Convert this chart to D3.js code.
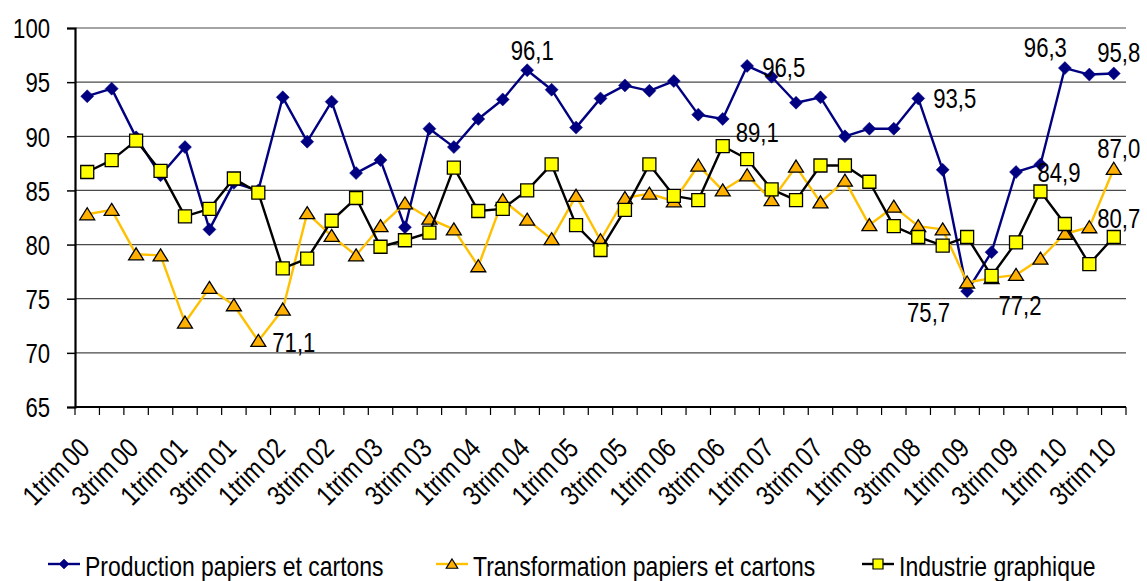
<!DOCTYPE html>
<html><head><meta charset="utf-8">
<script src="https://cdn.jsdelivr.net/npm/d3@7"></script>
<style>
html,body{margin:0;padding:0;background:#fff;}
svg text{font-family:"Liberation Sans",Arial,sans-serif;fill:#000;}
</style></head><body>
<svg id="chart" width="1147" height="581"></svg>
<script>
// Quarterly indices, 1st quarter 2000 to 3rd quarter 2010
const categories = [
  "1trim 00","2trim 00","3trim 00","4trim 00",
  "1trim 01","2trim 01","3trim 01","4trim 01",
  "1trim 02","2trim 02","3trim 02","4trim 02",
  "1trim 03","2trim 03","3trim 03","4trim 03",
  "1trim 04","2trim 04","3trim 04","4trim 04",
  "1trim 05","2trim 05","3trim 05","4trim 05",
  "1trim 06","2trim 06","3trim 06","4trim 06",
  "1trim 07","2trim 07","3trim 07","4trim 07",
  "1trim 08","2trim 08","3trim 08","4trim 08",
  "1trim 09","2trim 09","3trim 09","4trim 09",
  "1trim 10","2trim 10","3trim 10"
];
const production = [93.7,94.4,89.9,86.4,89.0,81.4,85.7,85.0,93.6,89.5,93.2,86.6,87.8,81.6,90.7,89.0,91.6,93.4,96.1,94.3,90.8,93.5,94.7,94.2,95.1,92.0,91.6,96.5,95.5,93.1,93.6,90.0,90.7,90.7,93.5,86.9,75.7,79.3,86.7,87.4,96.3,95.7,95.8];
const transformation = [82.8,83.2,79.1,79.0,72.8,76.0,74.4,71.1,74.0,82.9,80.8,79.0,81.7,83.8,82.4,81.4,78.0,84.1,82.3,80.5,84.5,80.4,84.3,84.7,84.0,87.3,85.0,86.4,84.1,87.2,83.9,85.9,81.8,83.5,81.7,81.4,76.5,76.9,77.2,78.7,81.0,81.6,87.0];
const graphique = [86.7,87.8,89.6,86.8,82.6,83.3,86.1,84.8,77.8,78.7,82.2,84.3,79.8,80.4,81.1,87.1,83.1,83.3,85.0,87.4,81.8,79.5,83.2,87.4,84.5,84.1,89.1,87.9,85.1,84.1,87.3,87.3,85.8,81.7,80.7,79.9,80.7,77.1,80.2,84.9,81.9,78.2,80.7];
const seriesNames = ["Production papiers et cartons","Transformation papiers et cartons","Industrie graphique"];
const yTicks = [65,70,75,80,85,90,95,100];

// series styling
const styles = [
  {line:"#000080", fill:"#000080", stroke:"#000080", shape:"diamond"},
  {line:"#FFC000", fill:"#FFB000", stroke:"#000000", shape:"triangle"},
  {line:"#000000", fill:"#FFFF00", stroke:"#000000", shape:"square"}
];
const seriesValues = [production, transformation, graphique];

// value labels: series index, point index, offset and anchor
const valueLabels = [
  {s:1, i:7,  dx:14, dy:11, a:"start"},
  {s:0, i:18, dx:5,  dy:-10, a:"middle"},
  {s:2, i:26, dx:13, dy:-4, a:"start"},
  {s:0, i:27, dx:15, dy:11, a:"start"},
  {s:0, i:34, dx:15, dy:10, a:"start"},
  {s:0, i:36, dx:-17, dy:31, a:"end"},
  {s:1, i:38, dx:4, dy:40, a:"middle"},
  {s:0, i:40, dx:2, dy:-11, a:"end"},
  {s:0, i:42, dx:5, dy:-11, a:"middle"},
  {s:2, i:39, dx:-3, dy:-10, a:"start"},
  {s:1, i:42, dx:5, dy:-11, a:"middle"},
  {s:2, i:42, dx:5, dy:-9, a:"middle"}
];

// narrow type: horizontally condensed sans
const NARROW = 0.82;
const condense = (px, py, extra) => `translate(${px},${py})${extra || ""} scale(${NARROW},1)`;

const svg = d3.select("#chart");
const plotLeft = 75, plotRight = 1126, plotTop = 28, plotBottom = 407;
const x = d3.scaleBand().domain(categories).range([plotLeft, plotRight]).padding(0);
const y = d3.scaleLinear().domain([65, 100]).range([plotBottom, plotTop]);
const cx = c => x(c) + x.bandwidth() / 2;

// horizontal gridlines
svg.append("g").selectAll("line").data(yTicks.filter(t => t > 65)).join("line")
  .attr("x1", plotLeft).attr("x2", plotRight)
  .attr("y1", d => y(d)).attr("y2", d => y(d))
  .attr("stroke", "#4a4a4a").attr("stroke-width", 1.2);

// y axis
const yAxis = svg.append("g").attr("transform", `translate(${plotLeft},0)`)
  .call(d3.axisLeft(y).tickValues(yTicks).tickSize(8).tickPadding(17).tickFormat(d3.format("d")));
yAxis.select(".domain").attr("stroke", "#000").attr("stroke-width", 2.2);
yAxis.selectAll(".tick line").attr("stroke", "#000").attr("stroke-width", 1.5);
yAxis.selectAll("text").style("font-size", "27px").attr("dy", "0.36em")
  .each(function () {
    const px = +this.getAttribute("x");
    d3.select(this).attr("x", 0).attr("transform", condense(px, 0));
  });

// x axis: ticks on category boundaries, labels every other quarter
const xg = svg.append("g");
xg.append("line").attr("x1", plotLeft).attr("x2", plotRight).attr("y1", plotBottom).attr("y2", plotBottom)
  .attr("stroke", "#000").attr("stroke-width", 2.2);
const bounds = categories.map(c => x(c)).concat([plotRight]);
xg.selectAll("line.tk").data(bounds).join("line").attr("class", "tk")
  .attr("x1", d => d).attr("x2", d => d).attr("y1", plotBottom).attr("y2", plotBottom + 8)
  .attr("stroke", "#000").attr("stroke-width", 1.2);
xg.selectAll("text").data(categories.filter((c, i) => i % 2 === 0)).join("text")
  .attr("transform", c => condense(cx(c) + 4, plotBottom + 43, " rotate(-45)"))
  .attr("text-anchor", "end")
  .style("font-size", "28px")
  .style("word-spacing", "-3px")
  .text(c => c);

// marker shapes
function markerPath(shape, s) {
  if (shape === "diamond") return `M0,${-s}L${s},0L0,${s}L${-s},0Z`;
  if (shape === "triangle") return `M0,${-s}L${s * 1.15},${s * 0.85}L${-s * 1.15},${s * 0.85}Z`;
  return `M${-s},${-s}H${s}V${s}H${-s}Z`;
}
const markerSize = {diamond: 6.5, triangle: 6.5, square: 6.5};

const line = d3.line().x((d, i) => cx(categories[i])).y(d => y(d));
seriesValues.forEach((vals, k) => {
  const st = styles[k];
  const g = svg.append("g");
  g.append("path").datum(vals).attr("d", line)
    .attr("fill", "none").attr("stroke", st.line).attr("stroke-width", 2.4)
    .attr("stroke-linejoin", "round");
  g.selectAll("path.m").data(vals).join("path").attr("class", "m")
    .attr("transform", (d, i) => `translate(${cx(categories[i])},${y(d)})`)
    .attr("d", markerPath(st.shape, markerSize[st.shape]))
    .attr("fill", st.fill).attr("stroke", st.stroke).attr("stroke-width", st.shape === "diamond" ? 0.5 : 1.3);
});

// value labels
const fmt = v => d3.format(".1f")(v).replace(".", ",");
svg.append("g").selectAll("text").data(valueLabels).join("text")
  .attr("transform", d => condense(cx(categories[d.i]) + d.dx, y(seriesValues[d.s][d.i]) + d.dy))
  .attr("text-anchor", d => d.a)
  .style("font-size", "27px")
  .text(d => fmt(seriesValues[d.s][d.i]));

// legend
const legendX = [48, 436, 862];
const legendY = 564;
const lg = svg.append("g");
seriesNames.forEach((name, k) => {
  const st = styles[k];
  const g = lg.append("g").attr("transform", `translate(${legendX[k]},${legendY})`);
  g.append("line").attr("x1", 0).attr("x2", 32).attr("y1", 0).attr("y2", 0)
    .attr("stroke", st.line).attr("stroke-width", 2.4);
  g.append("path").attr("transform", "translate(16,0)")
    .attr("d", markerPath(st.shape, 5))
    .attr("fill", st.fill).attr("stroke", st.stroke).attr("stroke-width", st.shape === "diamond" ? 0.5 : 1.2);
  g.append("text").attr("transform", condense(37, 12)).style("font-size", "28px").text(name);
});
</script>
</body></html>
